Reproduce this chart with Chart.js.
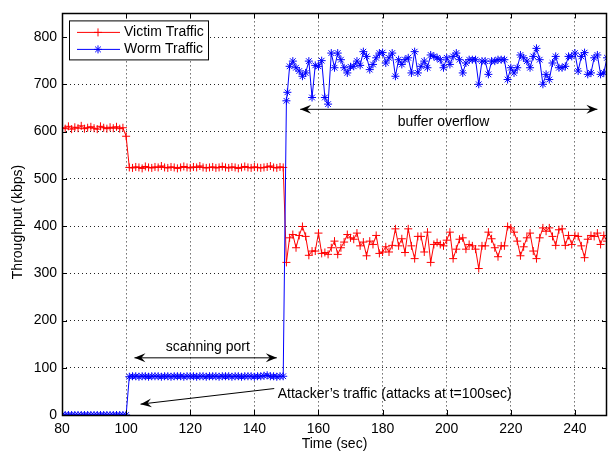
<!DOCTYPE html>
<html>
<head>
<meta charset="utf-8">
<script src="https://cdn.jsdelivr.net/npm/chart.js@4.4.1/dist/chart.umd.min.js"></script>
<style>
  html, body { margin: 0; padding: 0; background: #fff; }
  #wrap { width: 616px; height: 455px; }
</style>
</head>
<body>
<div id="wrap"><canvas id="myChart" width="616" height="455"></canvas></div>
<script>
// time of each sample (sec)
let times = [
  80, 81, 82, 83, 84, 85, 86, 87, 88, 89,
  90, 91, 92, 93, 94, 95, 96, 97, 98, 99,
  100, 101, 102, 103, 104, 105, 106, 107, 108, 109,
  110, 111, 112, 113, 114, 115, 116, 117, 118, 119,
  120, 121, 122, 123, 124, 125, 126, 127, 128, 129,
  130, 131, 132, 133, 134, 135, 136, 137, 138, 139,
  140, 141, 142, 143, 144, 145, 146, 147, 148, 149,
  150, 150.3, 151, 152, 153, 154, 155, 156, 157, 158, 159,
  160, 161, 162, 163, 164, 165, 166, 167, 168, 169,
  170, 171, 172, 173, 174, 175, 176, 177, 178, 179,
  180, 181, 182, 183, 184, 185, 186, 187, 188, 189,
  190, 191, 192, 193, 194, 195, 196, 197, 198, 199,
  200, 201, 202, 203, 204, 205, 206, 207, 208, 209,
  210, 211, 212, 213, 214, 215, 216, 217, 218, 219,
  220, 221, 222, 223, 224, 225, 226, 227, 228, 229,
  230, 231, 232, 233, 234, 235, 236, 237, 238, 239,
  240, 241, 242, 243, 244, 245, 246, 247, 248, 249,
  250
];

// throughput in kbps
let victimTraffic = [
  608, 606, 611, 605, 609, 607, 612, 606, 608, 610,
  607, 605, 611, 608, 606, 609, 607, 610, 606, 608,
  590, 524, 523, 525, 524, 522, 526, 524, 523, 525,
  524, 527, 524, 523, 525, 524, 522, 524, 526, 524,
  523, 525, 524, 527, 524, 523, 524, 525, 523, 524,
  526, 524, 523, 525, 524, 522, 524, 526, 524, 523,
  525, 524, 523, 524, 525, 527, 524, 523, 525, 524,
  323, null, 375, 382, 354, 380, 399, 378, 338, 347, 347,
  385, 342, 344, 340, 354, 368, 340, 354, 366, 382,
  375, 372, 385, 358, 366, 337, 368, 361, 380, 342,
  345, 356, 345, 359, 394, 358, 373, 344, 394, 358,
  331, 378, 378, 345, 387, 323, 361, 365, 361, 358,
  370, 387, 331, 351, 372, 375, 351, 361, 358, 351,
  310, 358, 358, 387, 373, 354, 335, 358, 358, 399,
  396, 387, 368, 337, 356, 375, 385, 347, 331, 375,
  396, 389, 396, 378, 359, 392, 394, 359, 380, 361,
  380, 378, 358, 333, 372, 380, 378, 385, 361, 380,
  368
];

let wormTraffic = [
  0, 0, 0, 0, 0, 0, 0, 0, 0, 0,
  0, 0, 0, 0, 0, 0, 0, 0, 0, 0,
  0, 81, 82, 82, 81, 82, 82, 81, 82, 82,
  82, 81, 82, 82, 81, 82, 82, 82, 81, 82,
  82, 82, 81, 82, 82, 81, 82, 82, 82, 81,
  82, 82, 82, 81, 82, 82, 81, 82, 82, 82,
  81, 82, 82, 83, 84, 82, 82, 81, 82, 82,
  665, 683, 738, 749, 735, 728, 717, 724, 749, 672, 740,
  738, 750, 672, 658, 766, 735, 766, 752, 735, 724,
  737, 738, 749, 740, 769, 759, 731, 742, 756, 766,
  767, 745, 756, 766, 717, 752, 742, 752, 756, 724,
  769, 724, 738, 749, 735, 762, 759, 756, 752, 735,
  756, 742, 759, 766, 752, 724, 745, 752, 752, 752,
  700, 749, 749, 721, 749, 749, 752, 752, 752, 710,
  735, 724, 735, 762, 756, 749, 735, 759, 776, 752,
  700, 721, 710, 745, 759, 735, 735, 738, 759, 759,
  766, 728, 759, 767, 721, 724, 756, 762, 721, 724,
  756
];

let seriesNames = ['Victim Traffic', 'Worm Traffic'];

// notes in data coordinates
let noteTexts = [
  { text: 'buffer overflow', x: 199, y: 620, align: 'center' },
  { text: 'scanning port', x: 125.5, y: 144, align: 'center' },
  { text: 'Attacker\u2019s traffic (attacks at t=100sec)', x: 147.3, y: 44, align: 'left' }
];
let noteArrows = [
  { from: [154.3, 647], to: [247, 647], both: true },
  { from: [102.6, 121], to: [147, 121], both: true },
  { from: [146.2, 56], to: [104.5, 23], both: false }
];

const FONT = '14px "Liberation Sans", Arial, Helvetica, sans-serif';

function toPoints(values) {
  let pts = [];
  for (let i = 0; i < times.length; i++) {
    pts.push({ x: times[i], y: values[i] });
  }
  return pts;
}

function arrowHead(ctx, x, y, angle) {
  ctx.save();
  ctx.translate(x, y);
  ctx.rotate(angle);
  ctx.beginPath();
  ctx.moveTo(0, 0);
  ctx.lineTo(-11, -4.5);
  ctx.lineTo(-7, 0);
  ctx.lineTo(-11, 4.5);
  ctx.closePath();
  ctx.fill();
  ctx.restore();
}

const framePlugin = {
  id: 'frame',
  afterDraw(chart) {
    let ctx = chart.ctx;
    let a = chart.chartArea;
    let xs = chart.scales.x;
    let ys = chart.scales.y;
    ctx.save();
    ctx.strokeStyle = '#000';
    ctx.fillStyle = '#000';
    ctx.lineWidth = 1;

    // inner ticks on all four sides
    ctx.beginPath();
    xs.ticks.forEach(t => {
      let p = Math.round(xs.getPixelForValue(t.value)) + 0.5;
      ctx.moveTo(p, a.bottom); ctx.lineTo(p, a.bottom - 5);
      ctx.moveTo(p, a.top); ctx.lineTo(p, a.top + 5);
    });
    ys.ticks.forEach(t => {
      let p = Math.round(ys.getPixelForValue(t.value)) + 0.5;
      ctx.moveTo(a.left, p); ctx.lineTo(a.left + 5, p);
      ctx.moveTo(a.right, p); ctx.lineTo(a.right - 5, p);
    });
    ctx.stroke();

    // box
    ctx.lineWidth = 1.5;
    ctx.strokeRect(Math.round(a.left) + 0.5, Math.round(a.top) + 0.5,
      Math.round(a.right - a.left) - 1, Math.round(a.bottom - a.top));
    ctx.lineWidth = 1;

    // notes
    ctx.font = FONT;
    ctx.textBaseline = 'middle';
    noteTexts.forEach(n => {
      ctx.textAlign = n.align;
      ctx.fillText(n.text, xs.getPixelForValue(n.x), ys.getPixelForValue(n.y));
    });
    noteArrows.forEach(ar => {
      let x1 = xs.getPixelForValue(ar.from[0]), y1 = ys.getPixelForValue(ar.from[1]);
      let x2 = xs.getPixelForValue(ar.to[0]), y2 = ys.getPixelForValue(ar.to[1]);
      let ang = Math.atan2(y2 - y1, x2 - x1);
      ctx.beginPath();
      ctx.moveTo(x1, y1); ctx.lineTo(x2, y2);
      ctx.stroke();
      arrowHead(ctx, x2, y2, ang);
      if (ar.both) arrowHead(ctx, x1, y1, ang + Math.PI);
    });

    // legend
    let lx = a.left + 7, ly = a.top + 7;
    ctx.fillStyle = '#fff';
    ctx.fillRect(lx, ly, 139, 39);
    ctx.strokeStyle = '#000';
    ctx.strokeRect(lx + 0.5, ly + 0.5, 139, 39);
    chart.data.datasets.forEach((ds, i) => {
      let yy = ly + 12 + i * 17;
      ctx.strokeStyle = ds.borderColor;
      ctx.lineWidth = 1;
      ctx.beginPath();
      ctx.moveTo(lx + 8, yy); ctx.lineTo(lx + 51, yy);
      ctx.stroke();
      Chart.helpers.drawPoint(ctx, { pointStyle: ds.pointStyle, radius: 4, rotation: 0, borderWidth: 1 }, lx + 29, yy);
      ctx.fillStyle = '#000';
      ctx.textAlign = 'left';
      ctx.fillText(ds.label, lx + 55, yy);
    });

    // axis titles
    ctx.fillStyle = '#000';
    ctx.textAlign = 'center';
    ctx.fillText('Time (sec)', (a.left + a.right) / 2, 444);
    ctx.save();
    ctx.translate(18, 222);
    ctx.rotate(-Math.PI / 2);
    ctx.fillText('Throughput (kbps)', 0, 0);
    ctx.restore();
    ctx.restore();
  }
};

let ctx = document.getElementById('myChart').getContext('2d');
let myChart = new Chart(ctx, {
  type: 'line',
  data: {
    datasets: [{
      label: seriesNames[0],
      data: toPoints(victimTraffic),
      borderColor: '#ff0000',
      backgroundColor: '#ff0000',
      borderWidth: 1,
      pointStyle: 'cross',
      pointRadius: 4,
      pointBorderWidth: 1,
      tension: 0,
      spanGaps: true,
      order: 1,
    }, {
      label: seriesNames[1],
      data: toPoints(wormTraffic),
      borderColor: '#0000ff',
      backgroundColor: '#0000ff',
      borderWidth: 1,
      pointStyle: 'star',
      pointRadius: 4,
      pointBorderWidth: 1,
      tension: 0,
      order: 0,
    }],
  },
  options: {
    responsive: false,
    animation: false,
    devicePixelRatio: 1,
    layout: { padding: { top: 6, right: 9, left: 0, bottom: 0 } },
    plugins: {
      legend: { display: false },
      tooltip: { enabled: false },
    },
    scales: {
      x: {
        type: 'linear',
        min: 80,
        max: 250,
        ticks: { stepSize: 20, includeBounds: false, autoSkip: false, maxRotation: 0, color: '#000', font: { family: '"Liberation Sans", Arial', size: 14 }, padding: 6 },
        grid: { color: '#222', drawTicks: false, lineWidth: 1 },
        border: { display: false, dash: [1, 3] },
        afterBuildTicks: s => { s.ticks = s.ticks.filter(t => t.value <= 240); },
        afterFit: s => { s.height = 40; },
      },
      y: {
        min: 0,
        max: 850,
        ticks: { stepSize: 100, includeBounds: false, color: '#000', font: { family: '"Liberation Sans", Arial', size: 14 }, padding: 5 },
        grid: { color: '#222', drawTicks: false, lineWidth: 1 },
        border: { display: false, dash: [1, 3] },
        afterBuildTicks: s => { s.ticks = s.ticks.filter(t => t.value <= 800); },
        afterFit: s => { s.width = 62; },
      },
    },
  },
  plugins: [framePlugin],
});
</script>
</body>
</html>
